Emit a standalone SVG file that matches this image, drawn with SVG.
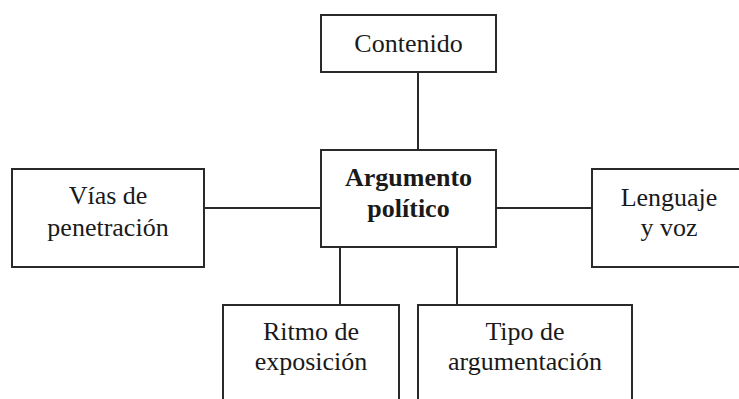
<svg xmlns="http://www.w3.org/2000/svg" width="739" height="399" viewBox="0 0 739 399">
<style>
.box{fill:#fff;stroke:#2a2a2a;stroke-width:2}
.ln{stroke:#2a2a2a;stroke-width:2;fill:none}
.t{font-family:'Liberation Serif','Times New Roman',serif;font-size:26px;fill:#1a1a1a;text-anchor:middle}
.b{font-weight:bold}
</style>
<rect width="739" height="399" fill="#fff"/>
<g id="connectors">
<line class="ln" x1="418" y1="72" x2="418" y2="150"/>
<line class="ln" x1="204" y1="208" x2="321" y2="208"/>
<line class="ln" x1="496" y1="208" x2="592" y2="208"/>
<line class="ln" x1="340" y1="247" x2="340" y2="305"/>
<line class="ln" x1="457" y1="247" x2="457" y2="305"/>
</g>
<g id="contenido">
<rect class="box" x="321" y="15" width="175" height="57"/>
<text class="t" x="408.5" y="52">Contenido</text>
</g>
<g id="argumento">
<rect class="box" x="321" y="150" width="175" height="97"/>
<text class="t b" x="408.5" y="186">Argumento</text>
<text class="t b" x="408.5" y="217">político</text>
</g>
<g id="vias">
<rect class="box" x="12" y="169" width="192" height="98"/>
<text class="t" x="108" y="204">Vías de</text>
<text class="t" x="108" y="236">penetración</text>
</g>
<g id="lenguaje">
<rect class="box" x="592" y="169" width="160" height="98"/>
<text class="t" x="669" y="206">Lenguaje</text>
<text class="t" x="669" y="236">y voz</text>
</g>
<g id="ritmo">
<rect class="box" x="223" y="305" width="176" height="120"/>
<text class="t" x="311" y="340">Ritmo de</text>
<text class="t" x="311" y="370">exposición</text>
</g>
<g id="tipo">
<rect class="box" x="418" y="305" width="214" height="120"/>
<text class="t" x="525" y="340">Tipo de</text>
<text class="t" x="525" y="370">argumentación</text>
</g>
</svg>
